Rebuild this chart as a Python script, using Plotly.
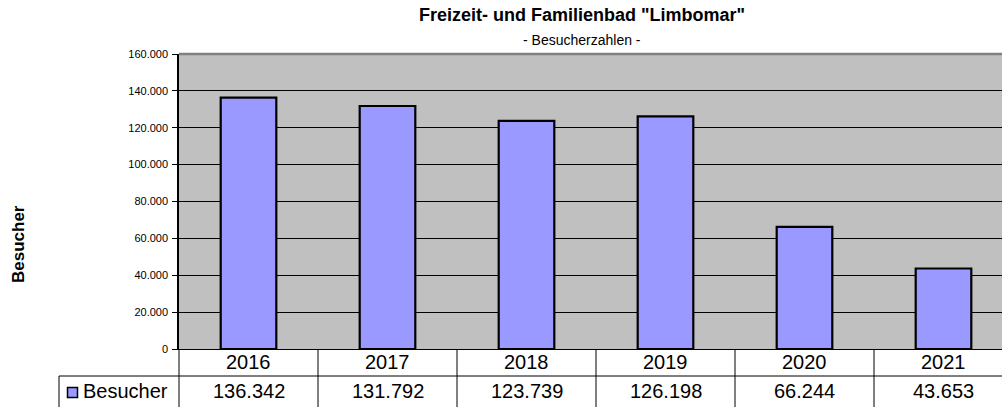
import plotly.graph_objects as go

# ---- data ----
years = ["2016", "2017", "2018", "2019", "2020", "2021"]
besucher = [136342, 131792, 123739, 126198, 66244, 43653]
series_name = "Besucher"
y_ticks = [0, 20000, 40000, 60000, 80000, 100000, 120000, 140000, 160000]

title_text = 'Freizeit- und Familienbad "Limbomar"'
subtitle_text = "- Besucherzahlen -"
y_title = "Besucher"

# ---- layout geometry (pixels) ----
W, H = 1002, 407
L, R, T, B = 179, 0, 54, 58
plot_w = W - L - R
plot_h = H - T - B
cat_px = 139.0
x_range = [-0.5, -0.5 + plot_w / cat_px]

FONT = "Arial, 'Liberation Sans', sans-serif"
BAR_COLOR = "#9999FF"
BG = "#C0C0C0"


def px_x(px):
    return (px - L) / plot_w


def px_y(py):
    return (H - B - py) / plot_h


def de_num(v):
    return f"{v:,}".replace(",", ".")


fig = go.Figure()
fig.add_trace(go.Bar(
    x=years, y=besucher, name=series_name,
    width=0.4,
    marker=dict(color=BAR_COLOR, line=dict(color="black", width=2.2)),
    showlegend=False,
))

shapes = []
annotations = []

# top border of plot area (gray)
shapes.append(dict(type="line", xref="paper", yref="paper", x0=0, x1=1.02, y0=1, y1=1,
                   line=dict(color="#808080", width=2.5)))

# data table: vertical lines at category boundaries
for i in range(len(years)):
    shapes.append(dict(type="line", xref="x", yref="paper", x0=i + 0.5, x1=i + 0.5,
                       y0=0, y1=px_y(H + 5), line=dict(color="black", width=1)))
# left axis continuation through table
shapes.append(dict(type="line", xref="paper", yref="paper", x0=0, x1=0,
                   y0=0, y1=px_y(H + 5), line=dict(color="black", width=1)))
# horizontal row separator
shapes.append(dict(type="line", xref="paper", yref="paper", x0=px_x(59), x1=1.02,
                   y0=px_y(376), y1=px_y(376), line=dict(color="black", width=1)))
# legend cell left border
shapes.append(dict(type="line", xref="paper", yref="paper", x0=px_x(59), x1=px_x(59),
                   y0=px_y(376), y1=px_y(H + 5), line=dict(color="black", width=1)))
# legend key square
shapes.append(dict(type="rect", xref="paper", yref="paper", x0=px_x(67.5), x1=px_x(77.5),
                   y0=px_y(397.5), y1=px_y(387.5), fillcolor=BAR_COLOR,
                   line=dict(color="black", width=1.5)))

# table text (category index positions on the x axis)
for i, (yr, v) in enumerate(zip(years, besucher)):
    annotations.append(dict(x=i, xref="x", y=px_y(362), yref="paper", text=yr,
                            showarrow=False, xanchor="center", yanchor="middle",
                            font=dict(family=FONT, size=20, color="black")))
    annotations.append(dict(x=i, xref="x", y=px_y(391), yref="paper", text=de_num(v),
                            showarrow=False, xanchor="center", yanchor="middle",
                            font=dict(family=FONT, size=20, color="black")))
annotations.append(dict(x=px_x(80.5), xref="paper", y=px_y(391), yref="paper", text=series_name,
                        showarrow=False, xanchor="left", yanchor="middle",
                        font=dict(family=FONT, size=20, color="black")))

# titles
annotations.append(dict(x=px_x(581.5), xref="paper", y=px_y(15.5), yref="paper",
                        text="<b>" + title_text + "</b>", showarrow=False,
                        xanchor="center", yanchor="middle",
                        font=dict(family=FONT, size=18, color="black")))
annotations.append(dict(x=px_x(581.5), xref="paper", y=px_y(40.5), yref="paper",
                        text=subtitle_text, showarrow=False,
                        xanchor="center", yanchor="middle",
                        font=dict(family=FONT, size=14, color="black")))
annotations.append(dict(x=px_x(18), xref="paper", y=px_y(244), yref="paper",
                        text="<b>" + y_title + "</b>", showarrow=False, textangle=-90,
                        xanchor="center", yanchor="middle",
                        font=dict(family=FONT, size=17, color="black")))

fig.update_layout(
    width=W, height=H,
    margin=dict(l=L, r=R, t=T, b=B, pad=0),
    paper_bgcolor="white",
    plot_bgcolor=BG,
    separators=",.",
    font=dict(family=FONT, size=11, color="black"),
    shapes=shapes,
    annotations=annotations,
    xaxis=dict(type="category", range=x_range, showticklabels=False, ticks="",
               showgrid=False, showline=True, linecolor="black", linewidth=1,
               zeroline=False, fixedrange=True),
    yaxis=dict(range=[0, 160000], tickvals=y_ticks, tickformat=",d",
               ticks="outside", ticklen=5, tickcolor="black", tickwidth=1,
               showgrid=True, gridcolor="black", gridwidth=1,
               showline=True, linecolor="black", linewidth=1.5,
               zeroline=False, tickfont=dict(family=FONT, size=11, color="black"),
               ticklabelstandoff=2),
    bargap=0.6,
)

fig.write_html("out.html",
               config={"displayModeBar": False},
               post_script="document.body.style.margin='0';document.body.style.overflow='hidden';")
